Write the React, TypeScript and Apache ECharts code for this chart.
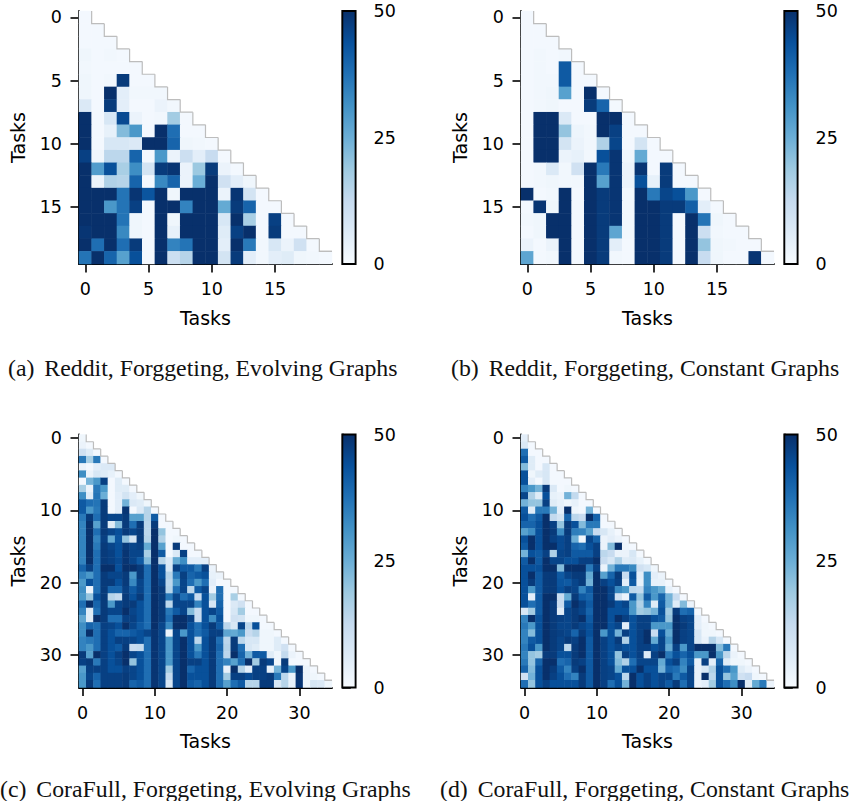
import React, { useEffect, useRef } from "react";
import * as echarts from "echarts";

const blues = ["#f7fbff", "#deebf7", "#c6dbef", "#9ecae1", "#6baed6", "#4292c6", "#2171b5", "#08519c", "#08306b"];
const colorbarTicks = [0, 50];
const captions = [
  "(a) \u2006Reddit, Forggeting, Evolving Graphs",
  "(b) \u2006Reddit, Forggeting, Constant Graphs",
  "(c) \u2006CoraFull, Forggeting, Evolving Graphs",
  "(d) \u2006CoraFull, Forggeting, Constant Graphs",
];

const redditEvolving = [
  [1],
  [1, 1],
  [1, 1, 1],
  [2, 1, 1.5, 1],
  [1.5, 1, 1, 1, 1],
  [2, 1, 1.5, 48, 1, 1],
  [2, 1, 50, 5, 1.5, 1.5, 1.5],
  [7, 1, 48, 5, 1, 1, 3, 1.5],
  [50, 1, 8, 45, 3, 1, 1.5, 18, 1],
  [50, 1, 4, 22, 30, 1, 50, 38, 1, 1],
  [50, 1, 8, 8, 7, 50, 50, 40, 2, 1.5, 1],
  [47, 2, 14, 14, 40, 1, 30, 3, 11, 5, 12, 1],
  [50, 29, 44, 17, 32, 9, 48, 49, 3, 19, 48, 3, 1],
  [50, 3, 16, 15, 40, 1, 33, 40, 3, 25, 50, 10, 5, 2],
  [50, 50, 50, 37, 49, 43, 50, 2, 50, 50, 50, 3, 49, 9, 1],
  [50, 50, 30, 37, 47, 1, 50, 50, 34, 50, 50, 26, 48, 40, 1, 1],
  [50, 50, 50, 37, 2, 1, 50, 2, 50, 50, 50, 8, 50, 17, 1, 47, 1],
  [49, 50, 50, 33, 2, 1, 50, 4, 50, 50, 50, 6, 47, 50, 1, 48, 1, 1],
  [50, 38, 50, 38, 48, 1, 50, 34, 37, 50, 50, 5, 50, 36, 1.5, 8, 3, 10, 1],
  [37, 50, 40, 28, 44, 1, 50, 11, 15, 50, 50, 9, 48, 5, 1.5, 5, 6, 2, 1.5, 1],
];

const redditConstant = [
  [1],
  [1, 1],
  [1, 1, 1],
  [1, 1.5, 1, 1.5],
  [1, 1.5, 1, 42, 1],
  [1, 1.5, 1.5, 42, 1, 1],
  [1, 1.5, 2, 28, 1, 50, 1],
  [1, 1.5, 2, 1, 1, 48, 40, 1],
  [1, 50, 50, 7, 1, 1, 50, 50, 1],
  [1, 50, 50, 20, 2.5, 1.5, 50, 47, 1, 1],
  [1, 50, 50, 9, 3, 1.5, 16, 46, 1, 9, 1],
  [1, 50, 50, 3, 4, 1.5, 44, 49, 2, 26, 1, 1],
  [1, 1.5, 7, 1.5, 10, 50, 36, 49, 3, 49, 1, 48, 1],
  [1, 1.5, 2, 1.5, 1.5, 50, 28, 49, 3, 44, 4, 48, 1, 1],
  [50, 1, 1.5, 50, 1, 50, 48, 49, 1.5, 50, 36, 46, 44, 30, 1],
  [1, 49, 2, 50, 1, 50, 48, 49, 1.5, 50, 50, 48, 48, 41, 5, 1],
  [1.5, 2, 50, 50, 1, 50, 48, 49, 1.5, 50, 50, 48, 1, 50, 37, 2, 1],
  [1, 2, 50, 50, 1, 50, 48, 27, 1.5, 50, 50, 48, 1, 50, 11, 1.5, 1, 1],
  [3, 1, 3, 50, 1, 50, 48, 5, 1, 50, 50, 48, 1, 50, 20, 2, 1.5, 1, 1],
  [27, 1, 1.5, 50, 1, 50, 48, 1.5, 1, 50, 50, 48, 1, 50, 12, 2, 1, 1, 49, 1],
];

const coraEvolving = [
  [2],
  [3, 1],
  [10, 6, 1],
  [36, 17, 36, 1],
  [3, 1, 5, 7, 7],
  [32, 3, 8, 6, 4, 1],
  [1, 24, 30, 47, 1, 6, 1],
  [17, 3, 36, 30, 1, 6, 6, 1],
  [32, 6, 37, 25, 1, 5, 9, 5, 2],
  [42, 38, 37, 48, 1, 5, 24, 7, 6, 2],
  [42, 30, 36, 48, 1, 5, 49, 1, 7, 15, 1],
  [36, 48, 38, 48, 46, 46, 48, 28, 28, 15, 42, 1],
  [34, 50, 28, 48, 6, 22, 48, 38, 48, 14, 48, 1, 1],
  [34, 50, 38, 48, 46, 44, 48, 46, 48, 14, 50, 20, 1, 1],
  [34, 50, 34, 47, 26, 43, 20, 9, 48, 15, 50, 16, 1, 2, 1],
  [34, 50, 36, 48, 46, 44, 48, 46, 47, 26, 50, 28, 1, 48, 1, 1],
  [34, 50, 38, 48, 47, 44, 49, 46, 46, 17, 50, 42, 1, 7, 47, 1, 1],
  [34, 50, 38, 48, 47, 45, 49, 46, 42, 22, 50, 15, 7, 26, 32, 5, 5, 5],
  [40, 47, 38, 50, 50, 44, 50, 50, 48, 38, 50, 44, 8, 47, 42, 42, 36, 47, 3],
  [34, 30, 38, 48, 46, 46, 48, 30, 48, 38, 50, 44, 15, 36, 47, 40, 42, 44, 4, 3],
  [30, 44, 38, 48, 48, 44, 48, 33, 46, 38, 50, 46, 14, 30, 46, 38, 30, 38, 5, 1, 1],
  [32, 3, 38, 48, 40, 40, 47, 42, 46, 38, 50, 48, 15, 38, 46, 14, 42, 46, 3, 38, 1, 1],
  [30, 20, 44, 48, 15, 13, 48, 44, 48, 38, 50, 48, 36, 46, 38, 42, 12, 44, 18, 38, 1, 17, 1],
  [38, 50, 40, 48, 30, 46, 48, 48, 44, 38, 50, 48, 14, 46, 46, 46, 34, 44, 8, 40, 1, 7, 10, 1],
  [34, 6, 38, 48, 46, 46, 50, 46, 44, 38, 50, 48, 36, 42, 46, 22, 12, 44, 46, 42, 1, 8, 18, 1, 1],
  [27, 6, 50, 48, 38, 38, 47, 47, 44, 38, 50, 48, 38, 50, 50, 47, 12, 44, 32, 44, 1, 10, 9, 2, 2, 1],
  [32, 40, 38, 47, 46, 44, 50, 46, 42, 38, 50, 46, 33, 50, 50, 44, 38, 44, 48, 42, 14, 8, 46, 14, 44, 1, 1],
  [32, 50, 38, 47, 44, 40, 40, 42, 44, 46, 49, 46, 3, 46, 30, 44, 38, 42, 47, 47, 27, 26, 30, 12, 15, 2, 2, 1],
  [34, 36, 38, 47, 44, 47, 47, 46, 44, 38, 49, 46, 30, 46, 50, 44, 14, 44, 48, 38, 14, 48, 14, 8, 8, 2, 2, 6, 1],
  [34, 30, 38, 47, 44, 42, 48, 12, 13, 38, 49, 46, 30, 46, 50, 44, 30, 44, 48, 40, 15, 48, 38, 8, 6, 2, 2, 6, 10, 1],
  [48, 28, 50, 47, 44, 47, 50, 46, 44, 38, 49, 46, 30, 46, 50, 44, 36, 44, 48, 38, 14, 50, 40, 24, 42, 42, 6, 2, 13, 3, 1],
  [47, 48, 36, 47, 44, 46, 50, 20, 44, 38, 49, 46, 30, 46, 50, 47, 47, 44, 48, 38, 34, 28, 38, 50, 18, 48, 46, 2, 48, 1, 1, 1],
  [28, 47, 47, 47, 44, 44, 47, 46, 44, 38, 49, 46, 18, 46, 50, 40, 44, 44, 48, 38, 4, 50, 15, 5, 47, 47, 4, 24, 46, 30, 50, 3, 1],
  [30, 46, 40, 47, 47, 47, 48, 46, 44, 38, 49, 46, 13, 46, 50, 44, 44, 44, 48, 38, 18, 47, 47, 45, 47, 47, 48, 36, 14, 3, 49, 3, 2, 1],
  [30, 48, 38, 47, 47, 47, 48, 40, 42, 38, 49, 46, 8, 46, 50, 42, 40, 44, 48, 38, 28, 38, 42, 15, 15, 48, 48, 8, 15, 4, 49, 2, 8, 7, 2],
];

const coraConstant = [
  [5],
  [7, 1],
  [38, 1, 1],
  [42, 6, 1, 1],
  [22, 6, 1, 8, 1],
  [44, 2, 6, 8, 1, 1],
  [44, 5, 1, 8, 1, 1, 1],
  [34, 30, 24, 48, 7, 1, 2, 1],
  [46, 16, 6, 44, 4, 3, 24, 13, 1],
  [24, 20, 20, 47, 6, 4, 2, 4, 1, 1],
  [42, 6, 36, 36, 24, 5, 50, 2, 1, 24, 1],
  [44, 38, 42, 50, 13, 9, 40, 14, 12, 50, 40, 1],
  [40, 40, 44, 50, 47, 20, 48, 44, 22, 36, 36, 1, 1],
  [28, 32, 44, 50, 48, 32, 48, 35, 34, 28, 12, 8, 4, 1],
  [44, 50, 44, 50, 47, 45, 47, 25, 2, 46, 40, 3, 5, 3, 1],
  [42, 50, 44, 50, 50, 45, 47, 40, 38, 44, 47, 3, 22, 50, 2, 1],
  [24, 44, 42, 47, 16, 46, 47, 42, 42, 42, 47, 14, 12, 3, 3, 8, 1],
  [42, 50, 42, 50, 46, 46, 44, 44, 47, 47, 50, 12, 8, 16, 6, 7, 4, 1],
  [44, 44, 44, 50, 50, 22, 50, 50, 50, 36, 47, 3, 24, 36, 36, 33, 10, 8, 2],
  [44, 50, 42, 48, 48, 42, 46, 48, 48, 26, 50, 28, 40, 48, 12, 44, 5, 32, 5, 3],
  [44, 48, 42, 48, 48, 43, 42, 46, 48, 24, 50, 47, 44, 47, 5, 42, 4, 32, 4, 4, 1],
  [44, 30, 42, 48, 48, 44, 47, 46, 34, 42, 50, 50, 46, 33, 30, 14, 13, 34, 30, 26, 4, 1],
  [44, 5, 42, 50, 50, 12, 26, 48, 42, 40, 50, 50, 46, 10, 3, 42, 20, 42, 30, 40, 24, 12, 1],
  [44, 38, 42, 50, 48, 12, 42, 50, 47, 42, 50, 50, 48, 44, 46, 30, 16, 34, 6, 42, 24, 6, 22, 3],
  [8, 18, 42, 50, 48, 6, 46, 48, 46, 40, 50, 50, 44, 44, 44, 30, 18, 20, 24, 44, 18, 48, 38, 40, 1],
  [34, 50, 44, 50, 48, 47, 46, 48, 50, 42, 50, 50, 44, 50, 47, 44, 47, 47, 44, 42, 20, 50, 47, 46, 5, 1],
  [36, 30, 44, 50, 48, 46, 46, 48, 46, 44, 50, 50, 44, 46, 5, 44, 47, 47, 30, 30, 30, 50, 48, 46, 5, 2, 1],
  [34, 22, 44, 50, 48, 47, 46, 40, 48, 44, 50, 30, 44, 24, 47, 44, 47, 50, 12, 44, 26, 50, 47, 46, 8, 2, 2, 1],
  [34, 42, 44, 50, 48, 46, 48, 47, 50, 42, 50, 47, 44, 48, 16, 44, 47, 50, 26, 46, 30, 50, 47, 46, 8, 3, 15, 8, 1],
  [36, 44, 30, 50, 48, 46, 14, 48, 50, 42, 50, 47, 44, 46, 44, 44, 47, 47, 44, 46, 26, 47, 30, 46, 50, 50, 50, 22, 36, 1],
  [34, 20, 18, 48, 48, 44, 44, 48, 50, 42, 50, 47, 44, 20, 47, 44, 47, 6, 47, 50, 36, 44, 40, 44, 30, 30, 50, 30, 14, 3, 1],
  [36, 20, 40, 50, 50, 38, 40, 48, 47, 42, 50, 47, 44, 22, 16, 38, 46, 46, 46, 26, 44, 47, 34, 42, 4, 47, 5, 40, 6, 2, 2, 1],
  [40, 22, 44, 50, 48, 42, 34, 47, 50, 42, 50, 47, 46, 26, 44, 44, 50, 44, 44, 24, 40, 38, 32, 46, 4, 8, 16, 44, 38, 30, 6, 3, 1],
  [10, 24, 44, 50, 47, 44, 38, 34, 48, 42, 50, 47, 46, 44, 14, 50, 44, 47, 44, 46, 46, 36, 42, 46, 4, 50, 14, 44, 20, 28, 10, 12, 2, 1],
  [38, 20, 44, 47, 44, 44, 44, 44, 48, 42, 50, 47, 38, 44, 24, 50, 44, 47, 44, 46, 42, 48, 38, 46, 3, 5, 18, 44, 38, 32, 50, 6, 26, 36, 3],
];

const matrices = [redditEvolving, redditConstant, coraEvolving, coraConstant];
const tickSteps = [5, 5, 10, 10];
const SANS = "'DejaVu Sans', sans-serif";
const FS = 17.5;
const NAME_FS = 19;

function buildOption() {
  const grids: any[] = [];
  const xAxes: any[] = [];
  const yAxes: any[] = [];
  const series: any[] = [];
  const heatIdx: number[] = [];
  const graphics: any[] = [];
  const axisLine = { show: true, onZero: false, lineStyle: { color: "#000", width: 1.9 } };
  const axisTick = (step: number) => ({
    show: true, length: 8.5, alignWithLabel: true, interval: step - 1,
    lineStyle: { color: "#000", width: 1.6 },
  });

  matrices.forEach((m, p) => {
    const col = p % 2;
    const row = p < 2 ? 0 : 1;
    const left = col === 0 ? 79 : 521;
    const top = row === 0 ? 11 : 434.5;
    const size = 253;
    const cats = m.map((_, i) => String(i));
    const step = tickSteps[p];
    const g = grids.length;

    grids.push({ left, top, width: size, height: size, containLabel: false });
    xAxes.push({
      gridIndex: g, type: "category", data: cats, position: "bottom",
      name: "Tasks", nameLocation: "middle", nameGap: 44,
      nameTextStyle: { fontFamily: SANS, fontSize: NAME_FS, color: "#000" },
      axisLine, axisTick: axisTick(step), splitLine: { show: false }, splitArea: { show: false },
      axisLabel: { interval: step - 1, fontFamily: SANS, fontSize: FS, color: "#000", margin: 16 },
    });
    yAxes.push({
      gridIndex: g, type: "category", data: cats, inverse: true, position: "left",
      name: "Tasks", nameLocation: "middle", nameGap: 52,
      nameTextStyle: { fontFamily: SANS, fontSize: NAME_FS, color: "#000" },
      axisLine, axisTick: axisTick(step), splitLine: { show: false }, splitArea: { show: false },
      axisLabel: { interval: step - 1, fontFamily: SANS, fontSize: FS, color: "#000", margin: 17 },
    });

    const cells: number[][] = [];
    m.forEach((r, y) => r.forEach((v, x) => cells.push([x, y, v])));
    heatIdx.push(series.length);
    series.push({
      type: "heatmap", xAxisIndex: g, yAxisIndex: g, data: cells,
      itemStyle: { borderWidth: 0 }, emphasis: { disabled: true }, progressive: 0,
    });
    series.push({
      type: "custom", xAxisIndex: g, yAxisIndex: g, clip: false, silent: true,
      data: m.map((_, i) => [i, i]),
      encode: { x: 0, y: 1 },
      renderItem: (_: any, api: any) => {
        const i = api.value(0);
        const c = api.coord([i, i]);
        const s = api.size([1, 1]);
        const rx = c[0] + s[0] / 2;
        const ty = c[1] - s[1] / 2;
        const by = c[1] + s[1] / 2;
        const last = i === m.length - 1;
        const pts = last
          ? [[rx - s[0], ty], [rx, ty]]
          : [[rx, ty], [rx, by], [rx + s[0], by]];
        return {
          type: "polyline", shape: { points: pts },
          style: { stroke: "#bdbdbd", lineWidth: 1.2, fill: "none" },
        };
      },
      z: 3,
    });

    // colour bar
    const bar = grids.length;
    grids.push({ left: left + 263.3, top, width: 13.3, height: size });
    xAxes.push({ gridIndex: bar, type: "value", min: 0, max: 1, show: false });
    yAxes.push({
      gridIndex: bar, type: "value", min: 0, max: 50, interval: 25, position: "right",
      axisLine: { show: true, lineStyle: { color: "#000", width: 1.9 } },
      axisTick: { show: true, length: 8.5, lineStyle: { color: "#000", width: 1.6 } },
      splitLine: { show: false },
      axisLabel: { fontFamily: SANS, fontSize: FS, color: "#000", margin: 18 },
    });
    series.push({
      type: "custom", xAxisIndex: bar, yAxisIndex: bar, clip: false, silent: true,
      data: [[0, colorbarTicks[0]]],
      encode: { x: 0, y: 1 },
      renderItem: (_: any, api: any) => {
        const a = api.coord([0, colorbarTicks[1]]);
        const b = api.coord([1, colorbarTicks[0]]);
        return {
          type: "rect",
          shape: { x: a[0], y: a[1], width: b[0] - a[0], height: b[1] - a[1] },
          style: {
            fill: new echarts.graphic.LinearGradient(0, 1, 0, 0,
              blues.map((color, k) => ({ offset: k / (blues.length - 1), color }))),
            stroke: "#000", lineWidth: 1.9,
          },
        };
      },
    });

    graphics.push({
      type: "text",
      x: [8, 451, 0, 440][p],
      y: row === 0 ? 380 : 801,
      style: {
        text: captions[p], fill: "#111",
        font: "23.8px 'Liberation Serif', serif",
        verticalAlign: "bottom",
      },
    });
  });

  return {
    animation: false,
    backgroundColor: "#fff",
    grid: grids, xAxis: xAxes, yAxis: yAxes, series,
    graphic: graphics,
    visualMap: {
      show: false, type: "continuous", min: 0, max: 50, dimension: 2,
      seriesIndex: heatIdx, inRange: { color: blues },
    },
  };
}

export default function App() {
  const ref = useRef<HTMLDivElement>(null);
  useEffect(() => {
    const chart = echarts.init(ref.current!, undefined, { renderer: "svg" });
    chart.setOption(buildOption() as any);
    return () => chart.dispose();
  }, []);
  return <div ref={ref} style={{ position: "absolute", left: 0, top: 0, width: 852, height: 801 }} />;
}
